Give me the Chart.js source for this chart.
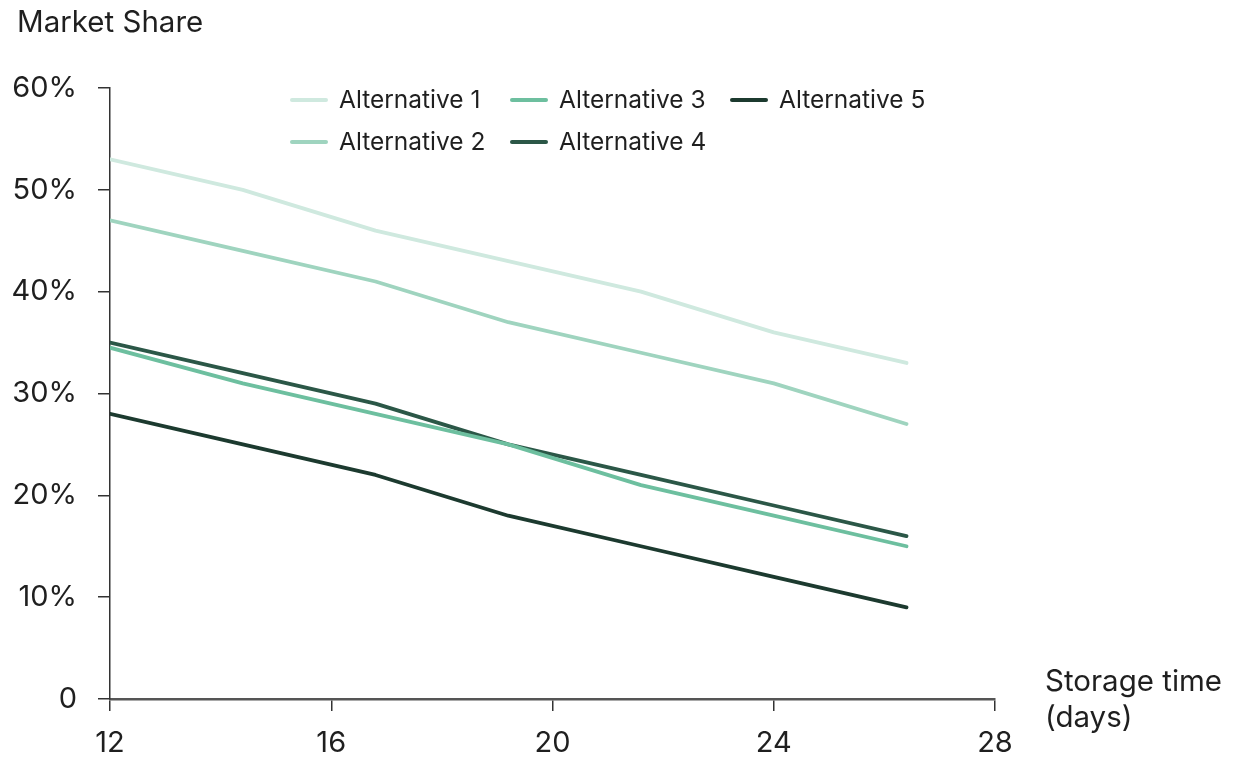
<!DOCTYPE html>
<html>
<head>
<meta charset="utf-8">
<script src="https://cdn.jsdelivr.net/npm/chart.js@4.4.1/dist/chart.umd.min.js"></script>
<style>
  html, body { margin: 0; padding: 0; background: #fff; }
  #wrap { width: 1234px; height: 759px; position: relative; }
</style>
</head>
<body>
<div id="wrap"><canvas id="c" width="1234" height="759"></canvas></div>
<script>
// Storage time (days) at which market share was measured
const storageDays = [12, 14.4, 16.8, 19.2, 21.6, 24, 26.4];

// Market share (%) for each alternative
const alt1 = [53, 50, 46, 43, 40, 36, 33];
const alt2 = [47, 44, 41, 37, 34, 31, 27];
const alt3 = [34.5, 31, 28, 25, 21, 18, 15];
const alt4 = [35, 32, 29, 25, 22, 19, 16];
const alt5 = [28, 25, 22, 18, 15, 12, 9];

const seriesNames = ['Alternative 1', 'Alternative 2', 'Alternative 3', 'Alternative 4', 'Alternative 5'];
const seriesColors = ['#cfe9df', '#9fd4bf', '#6dbf9f', '#2b5747', '#1c3a2f'];

// Axis ticks
const xTicks = [12, 16, 20, 24, 28];
const yTicks = [0, 10, 20, 30, 40, 50, 60];

const FONT = 'Inter, "Liberation Sans", Arial, sans-serif';
const TEXT = '#1f1f1f';

function toPoints(values) {
  return values.map((v, i) => ({ x: storageDays[i], y: v }));
}

const datasets = [alt1, alt2, alt3, alt4, alt5].map((vals, i) => ({
  label: seriesNames[i],
  data: toPoints(vals),
  borderColor: seriesColors[i],
  backgroundColor: seriesColors[i],
  borderWidth: 3.8,
  pointRadius: 0,
  tension: 0,
  borderJoinStyle: 'round',
  borderCapStyle: 'round',
  fill: false
}));

// Legend in three columns, filled top-to-bottom
const legendPlugin = {
  id: 'columnLegend',
  afterDraw(chart) {
    const ctx = chart.ctx;
    const cols = [290, 510, 730];
    const rows = [100, 142];
    ctx.save();
    ctx.font = '24.5px ' + FONT;
    ctx.textBaseline = 'middle';
    ctx.textAlign = 'left';
    chart.data.datasets.forEach((ds, i) => {
      const cx = cols[Math.floor(i / 2)];
      const cy = rows[i % 2];
      ctx.strokeStyle = ds.borderColor;
      ctx.lineWidth = 4;
      ctx.lineCap = 'round';
      ctx.beginPath();
      ctx.moveTo(cx + 2, cy);
      ctx.lineTo(cx + 36, cy);
      ctx.stroke();
      ctx.fillStyle = TEXT;
      ctx.fillText(ds.label, cx + 49, cy + 1);
    });
    ctx.restore();
  }
};

// Axis captions
const captionPlugin = {
  id: 'captions',
  afterDraw(chart) {
    const ctx = chart.ctx;
    ctx.save();
    ctx.fillStyle = TEXT;
    ctx.textAlign = 'left';
    ctx.textBaseline = 'middle';
    ctx.font = '29.5px ' + FONT;
    ctx.fillText('Market Share', 17, 23);
    ctx.fillText('Storage time', 1045, 682);
    ctx.fillText('(days)', 1045, 718);
    ctx.restore();
  }
};

new Chart(document.getElementById('c'), {
  type: 'line',
  data: { datasets },
  plugins: [legendPlugin, captionPlugin],
  options: {
    responsive: false,
    animation: false,
    events: [],
    layout: { padding: { left: 0, right: 239, top: 88, bottom: 0 } },
    plugins: {
      legend: { display: false },
      title: { display: false },
      tooltip: { enabled: false }
    },
    scales: {
      x: {
        type: 'linear',
        min: 12,
        max: 28,
        afterFit(scale) { scale.height = 60; },
        afterBuildTicks(scale) { scale.ticks = xTicks.map(v => ({ value: v })); },
        border: { display: true, color: '#555', width: 2.5 },
        grid: { drawOnChartArea: false, drawTicks: true, tickLength: 12, color: '#333', lineWidth: 1.5 },
        ticks: {
          padding: 15,
          color: TEXT,
          font: { family: FONT, size: 29 },
          maxRotation: 0,
          callback: v => String(v)
        }
      },
      y: {
        min: 0,
        max: 60,
        afterFit(scale) { scale.width = 110; },
        afterBuildTicks(scale) { scale.ticks = yTicks.map(v => ({ value: v })); },
        border: { display: true, color: '#333', width: 1.5 },
        grid: { drawOnChartArea: false, drawTicks: true, tickLength: 12, color: '#333', lineWidth: 1.5 },
        ticks: {
          padding: 21,
          color: TEXT,
          font: { family: FONT, size: 29 },
          callback: v => (v === 0 ? '0' : v + '%')
        }
      }
    }
  }
});
</script>
</body>
</html>
